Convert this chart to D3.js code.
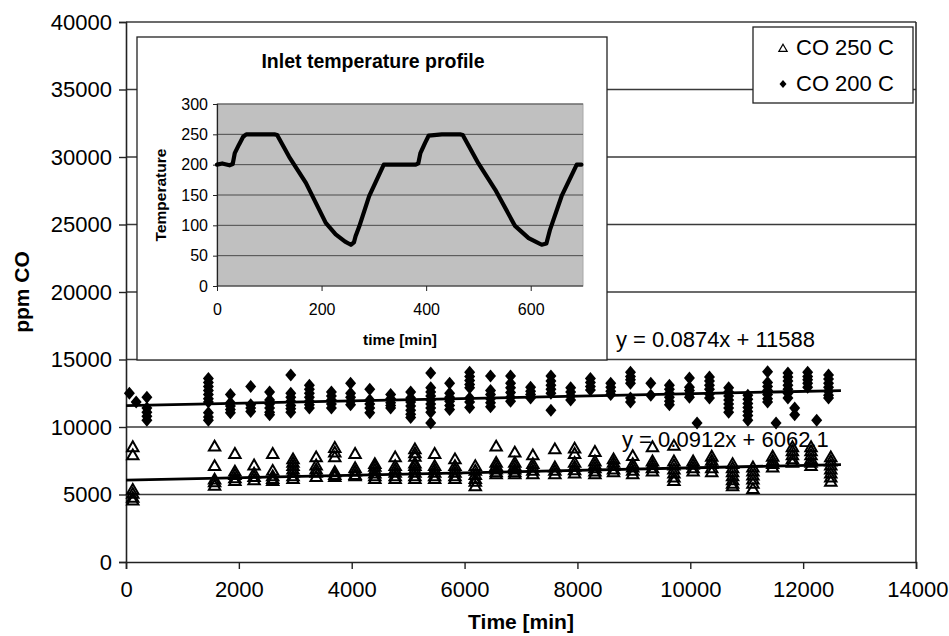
<!DOCTYPE html>
<html>
<head>
<meta charset="utf-8">
<script src="https://cdn.jsdelivr.net/npm/d3@7"></script>
<style>
  body { margin: 0; background: #fff; }
  svg text { font-family: "Liberation Sans", Arial, sans-serif; fill: #000; }
</style>
</head>
<body>
<div id="chart"></div>
<script>
// CO 250 C: one time per group, several readings at that time
const co250Times = [120, 1570, 1930, 2270, 2600, 2960, 3370, 3700, 4060, 4410, 4770, 5120, 5470, 5830, 6190,
  6560, 6890, 7210, 7600, 7950, 8310, 8640, 8980, 9330, 9710, 10050, 10380, 10750, 11110, 11460, 11810, 12140, 12490];
const co250Values = [
  [8450, 7850, 5300, 5000, 4700, 4500],
  [8500, 7050, 6050, 5850, 5600],
  [7950, 6650, 6400, 6150, 5950],
  [7100, 6500, 6250, 6000],
  [7950, 6700, 6300, 6100, 5950],
  [7550, 7300, 7050, 6800, 6550, 6300, 6100],
  [7700, 7100, 6800, 6550, 6250],
  [8400, 8050, 7700, 6600, 6400, 6250],
  [7950, 6900, 6650, 6400, 6300],
  [7200, 7000, 6750, 6500, 6300, 6100],
  [7700, 7050, 6800, 6550, 6300, 6100],
  [8300, 8000, 7750, 7250, 7050, 6800, 6550, 6300, 6100],
  [7950, 7050, 6800, 6550, 6300, 6100],
  [7550, 7050, 6800, 6550, 6300, 6100],
  [7050, 6700, 6400, 6100, 5900, 5550],
  [8500, 7300, 7050, 6800, 6600, 6450],
  [8050, 7300, 7050, 6800, 6600, 6450],
  [7850, 7200, 6950, 6700, 6450],
  [8300, 6950, 6700, 6450],
  [8350, 7950, 7300, 7000, 6750, 6500],
  [8100, 7400, 7150, 6900, 6650, 6450],
  [7550, 7300, 7050, 6800, 6600],
  [7800, 7200, 6950, 6700, 6450],
  [8450, 7400, 7150, 6900, 6650],
  [8550, 7400, 7100, 6800, 6500, 6200, 5950],
  [7400, 7150, 6900, 6650],
  [7750, 7450, 7200, 6900, 6600],
  [7200, 6900, 6600, 6300, 6000, 5750, 5550],
  [6950, 6650, 6350, 6050, 5750, 5350],
  [7750, 7450, 7200, 6950],
  [8450, 8150, 7850, 7550, 7300],
  [8450, 8150, 7850, 7550, 7300, 7050],
  [7700, 7400, 7100, 6800, 6500, 6200, 5900]
];

// CO 200 C
const co200Times = [60, 180, 370, 1460, 1850, 2210, 2545, 2920, 3250, 3640, 3980, 4320, 4690, 5045, 5400, 5735,
  6090, 6460, 6815, 7170, 7530, 7880, 8230, 8590, 8940, 9300, 9630, 9985, 10120, 10340, 10680, 11020,
  11370, 11520, 11730, 11850, 12080, 12240, 12450];
const co200Values = [
  [12500],
  [11850],
  [12200, 11400, 11100, 10800, 10500],
  [13600, 13300, 13000, 12700, 12400, 12100, 11850, 11050, 10750, 10500],
  [12400, 11800, 11550, 11300, 11050],
  [13000, 11650, 11400, 11150],
  [12600, 12000, 11700, 11400, 11100, 10900],
  [13850, 12500, 12200, 11900, 11600, 11350, 11100],
  [13100, 12800, 12500, 12200, 11900, 11650, 11400],
  [12600, 12300, 12000, 11700, 11400],
  [13250, 12500, 12200, 11900, 11650],
  [12800, 12000, 11700, 11400, 11050],
  [12400, 12100, 11800, 11600, 11400],
  [12600, 12150, 11850, 11550, 11250, 10950, 10700],
  [14000, 12900, 12600, 12300, 12000, 11700, 11400, 11100, 10300],
  [13250, 12500, 12200, 11900, 11600, 11300],
  [14050, 13750, 13450, 13150, 12900, 12150, 11850, 11450],
  [13780, 12700, 12400, 12100, 11800, 11500],
  [13780, 13250, 12900, 12550, 12200, 11900],
  [12950, 12650, 12400, 12150],
  [13780, 13400, 13100, 12800, 12500, 11250],
  [12900, 12600, 12300, 12000],
  [13600, 13300, 13000, 12750],
  [13250, 12950, 12650, 12400],
  [14050, 13750, 13500, 13250, 12150, 11850],
  [13250, 12350],
  [13100, 12800, 12500, 12200, 11900, 11650],
  [13630, 12950, 12700, 12450, 12200],
  [10300],
  [13700, 13400, 13100, 12800, 12450, 12150],
  [12900, 12600, 12300, 12000, 11700, 11400, 11100],
  [12350, 12050, 11750, 11450, 11150, 10850, 10500],
  [14100, 13300, 13000, 12700, 12400, 12100, 11850],
  [10300],
  [14000, 13700, 13400, 13100, 12800, 12500, 12150],
  [11400, 10900],
  [14050, 13750, 13500, 13250, 12950],
  [10500],
  [13850, 13550, 13250, 12950, 12650, 12350, 12150]
];

// linear trends (slope, intercept) as printed on the chart
const trend200 = {slope: 0.0874, icpt: 11588, label: "y = 0.0874x + 11588"};
const trend250 = {slope: 0.0912, icpt: 6062.1, label: "y = 0.0912x + 6062.1"};
const trendEnd = 12670;

// inset: inlet temperature profile
const tempTime = [0, 10, 24, 30, 34, 42, 50, 56, 80, 110, 115, 138, 170, 208, 227, 245, 256, 262, 265, 272, 291,
  319, 350, 380, 385, 389, 398, 405, 430, 465, 470, 500, 532, 570, 596, 612, 621, 630, 637, 659, 688, 697];
const tempValue = [200, 202, 199, 201, 219, 233, 246, 250, 250, 250, 249, 213, 170, 104, 85, 73, 68, 72, 82, 98, 148,
  200, 200, 200, 202, 219, 236, 248, 250, 250, 249, 202, 159, 99, 79, 72, 68, 70, 93, 148, 200, 200];

const xTicks = [0, 2000, 4000, 6000, 8000, 10000, 12000, 14000];
const yTicks = [0, 5000, 10000, 15000, 20000, 25000, 30000, 35000, 40000];
const insetXTicks = [0, 200, 400, 600];
const insetYTicks = [0, 50, 100, 150, 200, 250, 300];

const W = 949, H = 636;
const svg = d3.select("#chart").append("svg").attr("width", W).attr("height", H);

// main scales
const x = d3.scaleLinear().domain([0, 14000]).range([126, 916]);
const y = d3.scaleLinear().domain([0, 40000]).range([562, 22]);

// gridlines
svg.append("g").selectAll("line").data(yTicks.filter(d => d > 0)).join("line")
  .attr("x1", x(0)).attr("x2", x(14000))
  .attr("y1", d => y(d)).attr("y2", d => y(d))
  .attr("stroke", "#3a3a3a").attr("stroke-width", 1.3);
// right border
svg.append("line").attr("x1", x(14000)).attr("x2", x(14000)).attr("y1", y(40000)).attr("y2", y(0))
  .attr("stroke", "#222").attr("stroke-width", 1.5);

// axes
const yAxis = svg.append("g").attr("transform", `translate(${x(0)},0)`)
  .call(d3.axisLeft(y).tickValues(yTicks).tickSize(7).tickPadding(7).tickFormat(d3.format("d")));
const xAxis = svg.append("g").attr("transform", `translate(0,${y(0)})`)
  .call(d3.axisBottom(x).tickValues(xTicks).tickSize(7).tickPadding(12).tickFormat(d3.format("d")));
[yAxis, xAxis].forEach(g => {
  g.select(".domain").attr("stroke", "#222").attr("stroke-width", 1.6);
  g.selectAll(".tick line").attr("stroke", "#222").attr("stroke-width", 1.4);
  g.selectAll(".tick text").attr("font-size", 22).attr("font-family", "Liberation Sans, Arial, sans-serif").attr("fill", "#000");
});
xAxis.select(".tick:last-of-type text").attr("text-anchor", "end").attr("dx", 32);

svg.append("text").attr("x", 521).attr("y", 629).attr("text-anchor", "middle")
  .attr("font-size", 21).attr("font-weight", "bold").text("Time [min]");
svg.append("text").attr("transform", "translate(29,292) rotate(-90)").attr("text-anchor", "middle")
  .attr("font-size", 21).attr("font-weight", "bold").text("ppm CO");

// trend lines
const trendLine = t => svg.append("line")
  .attr("x1", x(0)).attr("y1", y(t.icpt))
  .attr("x2", x(trendEnd)).attr("y2", y(t.icpt + t.slope * trendEnd))
  .attr("stroke", "#000").attr("stroke-width", 2.8);

// markers
const diamond = "M0,-6.5L5.5,0L0,6.5L-5.5,0Z";
const triangle = d3.symbol().type(d3.symbolTriangle).size(56)();

const pts200 = co200Times.flatMap((t, i) => co200Values[i].map(v => [t, v]));
const pts250 = co250Times.flatMap((t, i) => co250Values[i].map(v => [t, v]));

trendLine(trend250);
svg.append("g").selectAll("path").data(pts250).join("path")
  .attr("d", triangle)
  .attr("transform", d => `translate(${x(d[0])},${y(d[1])})`)
  .attr("fill", "none").attr("stroke", "#000").attr("stroke-width", 2);

trendLine(trend200);
svg.append("g").selectAll("path").data(pts200).join("path")
  .attr("d", diamond)
  .attr("transform", d => `translate(${x(d[0])},${y(d[1])})`)
  .attr("fill", "#000");

// trend equations
svg.append("text").attr("x", 616).attr("y", 347).attr("font-size", 22).text(trend200.label);
svg.append("text").attr("x", 622).attr("y", 447).attr("font-size", 22).text(trend250.label);

// legend
const leg = svg.append("g");
leg.append("rect").attr("x", 753).attr("y", 27).attr("width", 160).attr("height", 76)
  .attr("fill", "#fff").attr("stroke", "#222").attr("stroke-width", 1.3);
leg.append("path").attr("d", d3.symbol().type(d3.symbolTriangle).size(30)())
  .attr("transform", "translate(783,49)").attr("fill", "none").attr("stroke", "#000").attr("stroke-width", 1.2);
leg.append("path").attr("d", "M0,-4L3.5,0L0,4L-3.5,0Z").attr("transform", "translate(783,84)").attr("fill", "#000");
leg.append("text").attr("x", 796).attr("y", 55).attr("font-size", 22).text("CO 250 C");
leg.append("text").attr("x", 796).attr("y", 91).attr("font-size", 22).text("CO 200 C");

// inset chart
const inset = svg.append("g");
inset.append("rect").attr("x", 137).attr("y", 37).attr("width", 470).attr("height", 323)
  .attr("fill", "#fff").attr("stroke", "#222").attr("stroke-width", 1.3);

const ix = d3.scaleLinear().domain([0, 700]).range([217, 583]);
const iy = d3.scaleLinear().domain([0, 300]).range([286, 104]);

inset.append("rect").attr("x", ix(0)).attr("y", iy(300)).attr("width", ix(700) - ix(0)).attr("height", iy(0) - iy(300))
  .attr("fill", "#c0c0c0").attr("stroke", "#a8a8a8").attr("stroke-width", 1);
inset.append("g").selectAll("line").data(insetYTicks.filter(d => d > 0)).join("line")
  .attr("x1", ix(0)).attr("x2", ix(700)).attr("y1", d => iy(d)).attr("y2", d => iy(d))
  .attr("stroke", "#4a4a4a").attr("stroke-width", 1);

const iyAxis = inset.append("g").attr("transform", `translate(${ix(0)},0)`)
  .call(d3.axisLeft(iy).tickValues(insetYTicks).tickSize(4).tickPadding(5));
const ixAxis = inset.append("g").attr("transform", `translate(0,${iy(0)})`)
  .call(d3.axisBottom(ix).tickValues(insetXTicks).tickSize(5).tickPadding(13));
ixAxis.select(".domain").attr("d", `M${ix(0)},0H${ix(700)}`);
[iyAxis, ixAxis].forEach(g => {
  g.select(".domain").attr("stroke", "#222").attr("stroke-width", 1.2);
  g.selectAll(".tick line").attr("stroke", "#222");
  g.selectAll(".tick text").attr("font-size", 16).attr("font-family", "Liberation Sans, Arial, sans-serif").attr("fill", "#000");
});

inset.append("path")
  .datum(tempTime.map((t, i) => [t, tempValue[i]]))
  .attr("d", d3.line().x(d => ix(d[0])).y(d => iy(d[1])))
  .attr("fill", "none").attr("stroke", "#000").attr("stroke-width", 4.2)
  .attr("stroke-linejoin", "round").attr("stroke-linecap", "round");

inset.append("text").attr("x", 373).attr("y", 68).attr("text-anchor", "middle")
  .attr("font-size", 19.5).attr("font-weight", "bold").text("Inlet temperature profile");
inset.append("text").attr("x", 400).attr("y", 345).attr("text-anchor", "middle")
  .attr("font-size", 15.5).attr("font-weight", "bold").text("time [min]");
inset.append("text").attr("transform", "translate(166,195) rotate(-90)").attr("text-anchor", "middle")
  .attr("font-size", 15.5).attr("font-weight", "bold").text("Temperature");
</script>
</body>
</html>
